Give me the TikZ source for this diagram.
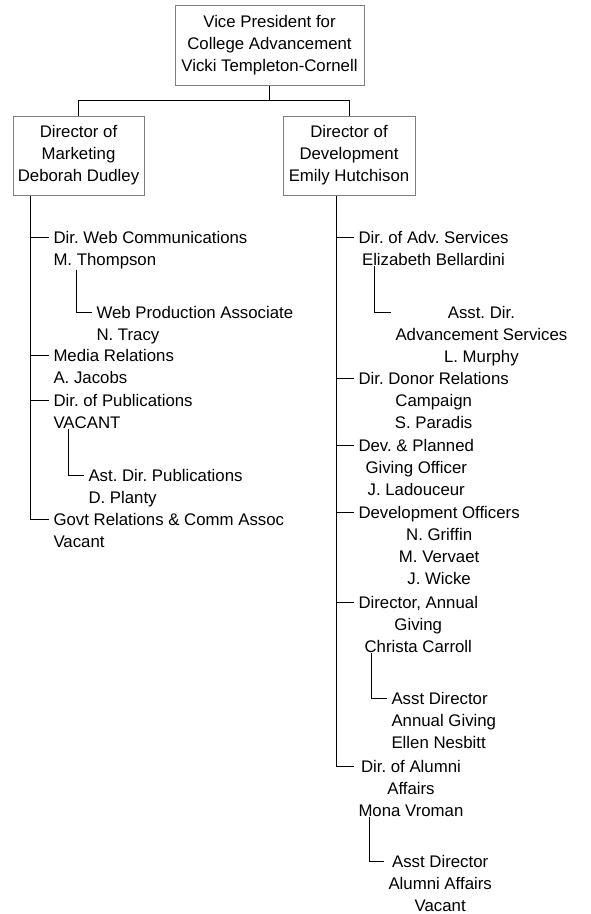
\documentclass[tikz,border=0pt]{standalone}
\usepackage{fontspec}
\setmainfont{Liberation Sans}
\frenchspacing
\begin{document}
\begin{tikzpicture}[x=1pt,y=-1pt,line width=1pt,
  every node/.style={font=\fontsize{16.8}{22}\selectfont},
  box/.style={draw=gray,align=center,inner sep=0pt,minimum height=80pt},
  item/.style={anchor=north west,align=left,inner xsep=4pt,inner ysep=0pt},
  citem/.style={item,align=center}]
\useasboundingbox (0,0) rectangle (590,914);

\node[box,minimum width=189pt] (vp) at (269.5,45) {Vice President for\\College Advancement\\Vicki Templeton-Cornell};
\node[box,minimum width=131pt,minimum height=79pt] (mkt) at (78.5,155.5) {Director of\\Marketing\\Deborah Dudley};
\node[box,minimum width=132pt,minimum height=79pt] (dev) at (349,155.5) {Director of\\Development\\Emily Hutchison};

\node[item] (web) at (49,231) {Dir. Web Communications\\M. Thompson};
\node[item] (prod) at (92,306) {Web Production Associate\\N. Tracy};
\node[item] (media) at (49,349) {Media Relations\\A. Jacobs};
\node[item] (pubs) at (49,394) {Dir. of Publications\\VACANT};
\node[item] (astpub) at (84,469) {Ast. Dir. Publications\\D. Planty};
\node[item] (govt) at (49,513) {Govt Relations \& Comm Assoc\\Vacant};

\node[citem] (adv) at (354,231) {Dir. of Adv. Services\\Elizabeth Bellardini};
\node[citem] (asstadv) at (391,306) {Asst. Dir.\\Advancement Services\\L. Murphy};
\node[citem] (donor) at (354,372) {Dir. Donor Relations\\Campaign\\S. Paradis};
\node[citem] (planned) at (354,439) {Dev. \& Planned\\Giving Officer\\J. Ladouceur};
\node[citem] (devoff) at (354,506) {Development Officers\\N. Griffin\\M. Vervaet\\J. Wicke};
\node[citem] (annual) at (354,596) {Director, Annual\\Giving\\Christa Carroll};
\node[item] (asstann) at (387,692) {Asst Director\\Annual Giving\\Ellen Nesbitt};
\node[citem] (alumni) at (354,760) {Dir. of Alumni\\Affairs\\Mona Vroman};
\node[citem] (asstalum) at (384,855) {Asst Director\\Alumni Affairs\\Vacant};

\foreach \n in {web,prod,media,pubs,astpub,govt,adv,asstadv,donor,planned,devoff,annual,asstann,alumni,asstalum}
  \coordinate (\n-l) at ([yshift=-6pt]\n.north west);
\coordinate (ltrunk) at ([xshift=18pt]mkt.south west);
\coordinate (rtrunk) at ([xshift=54pt]dev.south west);

\draw (vp.south) -- ++(0,15) coordinate (split) -| (mkt.north);
\draw (split) -| (dev.north);

\draw (ltrunk) |- (govt-l);
\foreach \n in {web,media,pubs}
  \draw (ltrunk |- \n-l) -- (\n-l);
\draw ([xshift=27pt]web.south west) |- (prod-l);
\draw ([xshift=19pt]pubs.south west) |- (astpub-l);

\draw (rtrunk) |- (alumni-l);
\foreach \n in {adv,donor,planned,devoff,annual}
  \draw (rtrunk |- \n-l) -- (\n-l);
\draw ([xshift=20pt]adv.south west) |- (asstadv-l);
\draw ([xshift=17pt]annual.south west) |- (asstann-l);
\draw ([xshift=15pt]alumni.south west) |- (asstalum-l);

\end{tikzpicture}
\end{document}
